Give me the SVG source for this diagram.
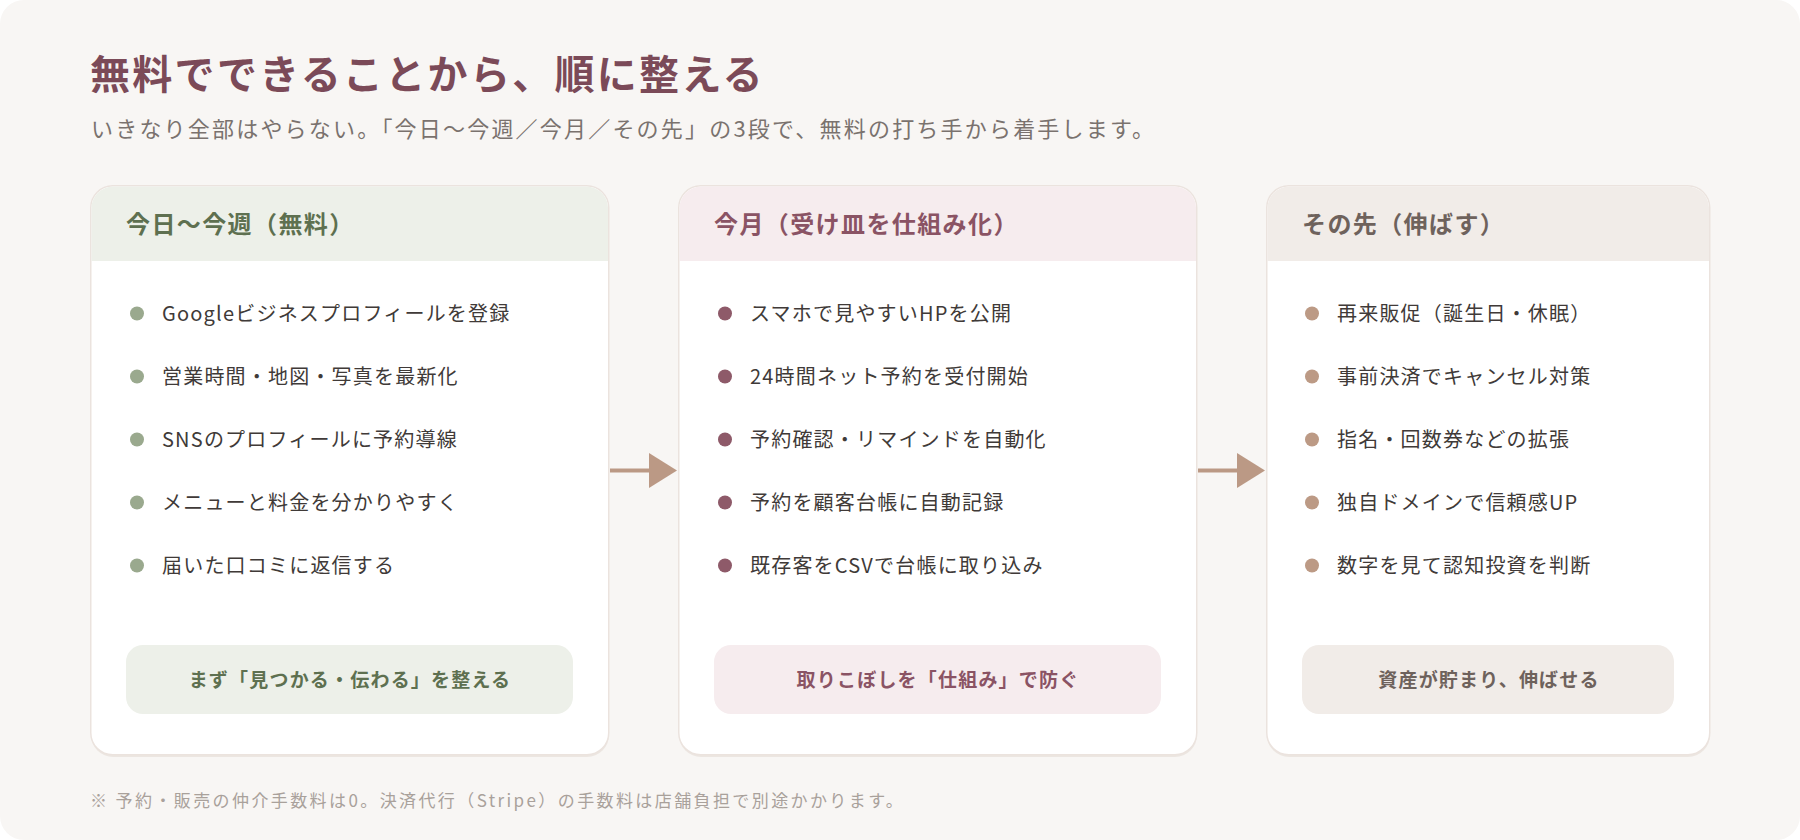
<svg xmlns="http://www.w3.org/2000/svg" width="1800" height="840" viewBox="0 0 1800 840">
  <defs>
    <style>
      text { font-family: "Noto Sans CJK JP", "Noto Sans", sans-serif; }
      .title { font-size: 40px; font-weight: 700; fill: #7b4a58; letter-spacing: 2.3px; }
      .sub { font-size: 22px; fill: #7a726e; letter-spacing: 2.2px; }
      .note { font-size: 17px; fill: #a9a19b; letter-spacing: 2.4px; }
      .card { fill: #ffffff; stroke: #ebe3de; stroke-width: 1.5; }
      .shadow { fill: #ece6e1; }
      .hdr { font-size: 24px; font-weight: 700; letter-spacing: 1.4px; }
      .item { font-size: 20px; fill: #403a38; letter-spacing: 1.2px; }
      .btn { font-size: 19px; font-weight: 700; letter-spacing: 1.2px; text-anchor: middle; }
      .g-fill { fill: #edf0e9; } .g-text { fill: #5e7050; } .g-dot { fill: #9aa98e; }
      .m-fill { fill: #f6ecee; } .m-text { fill: #8a5364; } .m-dot { fill: #8e5a69; }
      .t-fill { fill: #f1ece8; } .t-text { fill: #6e625c; } .t-dot { fill: #bc9a85; }
      .conn { stroke: #bb9985; stroke-width: 4; fill: none; }
      .head { fill: #bb9985; }
    </style>
  </defs>

  <rect x="0" y="0" width="1800" height="840" fill="#ffffff"/>
  <rect x="0" y="0" width="1800" height="840" rx="24" fill="#f8f6f4"/>

  <text class="title" x="90" y="89">無料でできることから、順に整える</text>
  <text class="sub" x="91" y="137">いきなり全部はやらない。「今日〜今週／今月／その先」の3段で、無料の打ち手から着手します。</text>

  <g id="card-today">
    <rect class="shadow" x="91" y="188" width="518" height="569" rx="22"/>
    <rect class="card" x="90.75" y="185.75" width="518" height="569" rx="22"/>
    <path class="g-fill" d="M91.5,261 V208 A21.5,21.5 0 0 1 113,186.5 H586.5 A21.5,21.5 0 0 1 608,208 V261 Z"/>
    <text class="hdr g-text" x="126" y="233">今日〜今週（無料）</text>
    <circle class="g-dot" cx="137" cy="313.5" r="7"/>
    <text class="item" x="162" y="321">Googleビジネスプロフィールを登録</text>
    <circle class="g-dot" cx="137" cy="376.5" r="7"/>
    <text class="item" x="162" y="384">営業時間・地図・写真を最新化</text>
    <circle class="g-dot" cx="137" cy="439.5" r="7"/>
    <text class="item" x="162" y="447">SNSのプロフィールに予約導線</text>
    <circle class="g-dot" cx="137" cy="502.5" r="7"/>
    <text class="item" x="162" y="510">メニューと料金を分かりやすく</text>
    <circle class="g-dot" cx="137" cy="565.5" r="7"/>
    <text class="item" x="162" y="573">届いた口コミに返信する</text>
    <rect class="g-fill" x="126" y="645" width="447" height="69" rx="17"/>
    <text class="btn g-text" x="350" y="687">まず「見つかる・伝わる」を整える</text>
  </g>

  <g id="card-month">
    <rect class="shadow" x="679" y="188" width="518" height="569" rx="22"/>
    <rect class="card" x="678.75" y="185.75" width="518" height="569" rx="22"/>
    <path class="m-fill" d="M679.5,261 V208 A21.5,21.5 0 0 1 701,186.5 H1174.5 A21.5,21.5 0 0 1 1196,208 V261 Z"/>
    <text class="hdr m-text" x="714" y="233">今月（受け皿を仕組み化）</text>
    <circle class="m-dot" cx="725" cy="313.5" r="7"/>
    <text class="item" x="750" y="321">スマホで見やすいHPを公開</text>
    <circle class="m-dot" cx="725" cy="376.5" r="7"/>
    <text class="item" x="750" y="384">24時間ネット予約を受付開始</text>
    <circle class="m-dot" cx="725" cy="439.5" r="7"/>
    <text class="item" x="750" y="447">予約確認・リマインドを自動化</text>
    <circle class="m-dot" cx="725" cy="502.5" r="7"/>
    <text class="item" x="750" y="510">予約を顧客台帳に自動記録</text>
    <circle class="m-dot" cx="725" cy="565.5" r="7"/>
    <text class="item" x="750" y="573">既存客をCSVで台帳に取り込み</text>
    <rect class="m-fill" x="714" y="645" width="447" height="69" rx="17"/>
    <text class="btn m-text" x="938" y="687">取りこぼしを「仕組み」で防ぐ</text>
  </g>

  <g id="card-future">
    <rect class="shadow" x="1267" y="188" width="443" height="569" rx="22"/>
    <rect class="card" x="1266.75" y="185.75" width="443" height="569" rx="22"/>
    <path class="t-fill" d="M1267.5,261 V208 A21.5,21.5 0 0 1 1289,186.5 H1687.5 A21.5,21.5 0 0 1 1709,208 V261 Z"/>
    <text class="hdr t-text" x="1302" y="233">その先（伸ばす）</text>
    <circle class="t-dot" cx="1312" cy="313.5" r="7"/>
    <text class="item" x="1337" y="321">再来販促（誕生日・休眠）</text>
    <circle class="t-dot" cx="1312" cy="376.5" r="7"/>
    <text class="item" x="1337" y="384">事前決済でキャンセル対策</text>
    <circle class="t-dot" cx="1312" cy="439.5" r="7"/>
    <text class="item" x="1337" y="447">指名・回数券などの拡張</text>
    <circle class="t-dot" cx="1312" cy="502.5" r="7"/>
    <text class="item" x="1337" y="510">独自ドメインで信頼感UP</text>
    <circle class="t-dot" cx="1312" cy="565.5" r="7"/>
    <text class="item" x="1337" y="573">数字を見て認知投資を判断</text>
    <rect class="t-fill" x="1302" y="645" width="372" height="69" rx="17"/>
    <text class="btn t-text" x="1489" y="687">資産が貯まり、伸ばせる</text>
  </g>

  <g id="connectors">
    <line class="conn" x1="610" y1="470.5" x2="650" y2="470.5"/>
    <polygon class="head" points="649,453 677,470.5 649,488"/>
    <line class="conn" x1="1198" y1="470.5" x2="1238" y2="470.5"/>
    <polygon class="head" points="1237,453 1265,470.5 1237,488"/>
  </g>

  <text class="note" x="90" y="807">※ 予約・販売の仲介手数料は0。決済代行（Stripe）の手数料は店舗負担で別途かかります。</text>
</svg>
